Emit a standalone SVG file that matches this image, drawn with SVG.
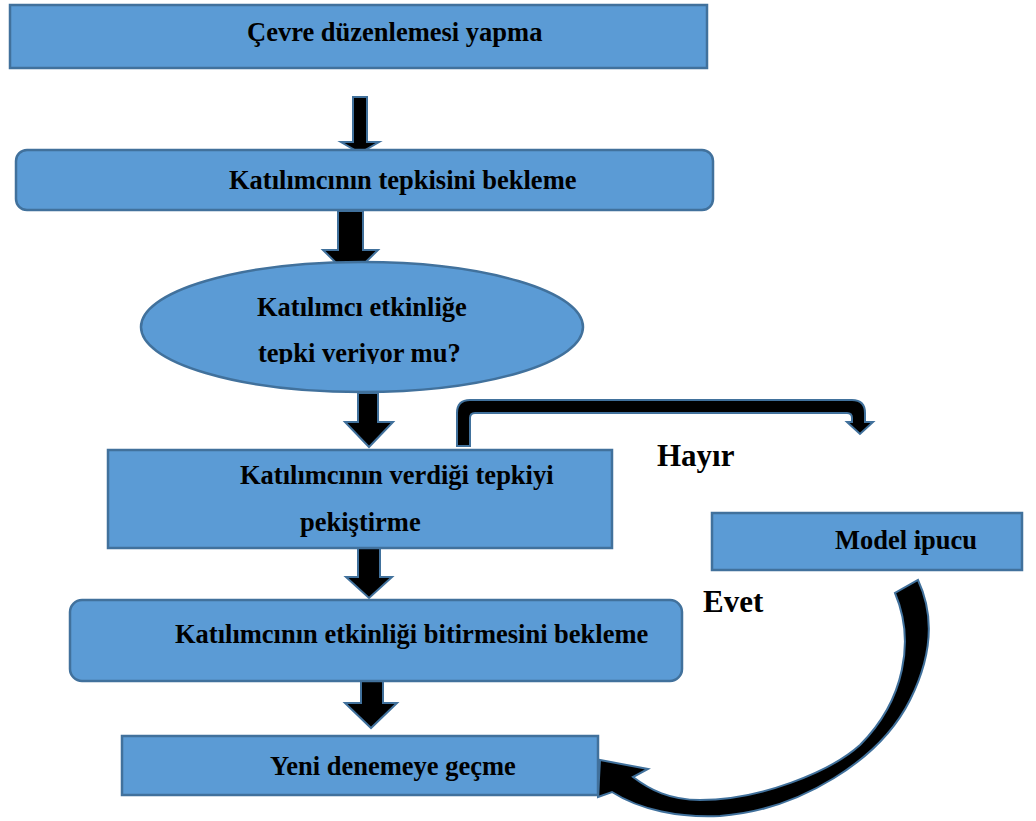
<svg xmlns="http://www.w3.org/2000/svg" width="1036" height="821" viewBox="0 0 1036 821">
<defs>
<style>
.box{fill:#5B9BD5;stroke:#41719C;stroke-width:2.5}
.arr{fill:#000;stroke:#41719C;stroke-width:2;stroke-linejoin:miter}
.t{font-family:"Liberation Serif","Times New Roman",serif;font-weight:bold;font-size:26.5px;fill:#000}
.big{font-family:"Liberation Serif","Times New Roman",serif;font-weight:bold;font-size:31px;fill:#000}
</style>
<clipPath id="ellclip"><rect x="140" y="262" width="445" height="102"/></clipPath>
</defs>
<rect width="1036" height="821" fill="#fff"/>
<g id="connectors">
<polygon class="arr" points="353,97 367,97 367,142 379,142 360,153 341,142 353,142"/>
<polygon class="arr" points="338,211 363,211 363,250 378,250 350.5,277 323,250 338,250"/>
<polygon class="arr" points="358,393 378,393 378,422 393,422 369,447 345,422 358,422"/>
<polygon class="arr" points="358,548 380,548 380,577 392,577 369,598 346,577 358,577"/>
<polygon class="arr" points="361,681 383,681 383,703 397,703 371,728 345,703 361,703"/>
<path class="arr" d="M457 446 L457 413 Q457 400 470 400 L852 400 Q865 400 865 413 L865 422 L873 422 L860 434 L847 422 L852 422 L852 418 Q852 413 847 413 L475 413 Q470 413 470 418 L470 446 Z"/>
<path class="arr" d="M895 593 C915 640 905 700 860 745 C830 772 760 800 700 800 C670 800 650 790 633 777 L648 769 L600 760 L598 797 L612 792 C640 810 680 818 720 816 C800 810 880 760 910 700 C935 650 932 610 918 580 Z"/>
</g>
<g id="n1">
<rect class="box" x="10" y="5" width="697" height="63"/>
<text class="t" x="247" y="41">Çevre düzenlemesi yapma</text>
</g>
<g id="n2">
<rect class="box" x="16" y="150" width="697" height="60" rx="11"/>
<text class="t" x="229" y="189">Katılımcının tepkisini bekleme</text>
</g>
<g id="n3">
<ellipse class="box" cx="362" cy="327" rx="221" ry="65"/>
<g clip-path="url(#ellclip)">
<text class="t" x="257" y="316">Katılımcı etkinliğe</text>
<text class="t" x="258" y="362">tepki veriyor mu?</text>
</g>
</g>
<g id="n4">
<rect class="box" x="108" y="450" width="504" height="98"/>
<text class="t" x="240" y="484">Katılımcının verdiği tepkiyi</text>
<text class="t" x="300" y="531">pekiştirme</text>
</g>
<g id="n5">
<rect class="box" x="712" y="513" width="310" height="57"/>
<text class="t" x="835" y="549">Model ipucu</text>
</g>
<g id="n6">
<rect class="box" x="70" y="600" width="612" height="81" rx="12"/>
<text class="t" x="175" y="643">Katılımcının etkinliği bitirmesini bekleme</text>
</g>
<g id="n7">
<rect class="box" x="122" y="736" width="476" height="59"/>
<text class="t" x="270" y="775">Yeni denemeye geçme</text>
</g>
<g id="labels">
<text class="big" x="657" y="466">Hayır</text>
<text class="big" x="703" y="612">Evet</text>
</g>
</svg>
